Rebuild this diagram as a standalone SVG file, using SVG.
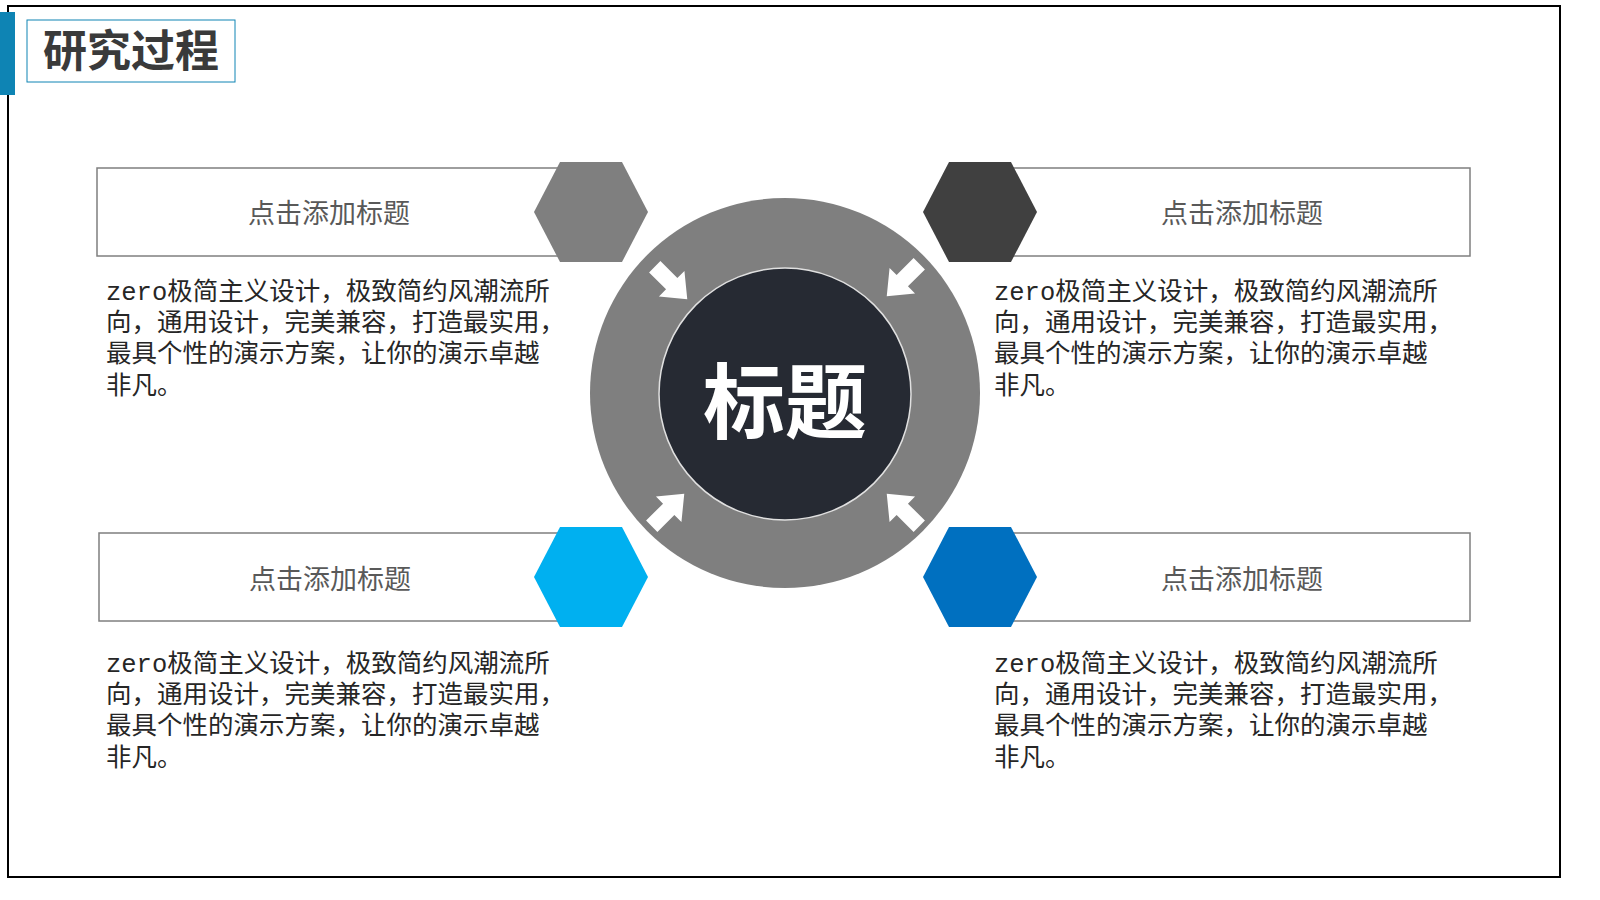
<svg xmlns="http://www.w3.org/2000/svg" width="1600" height="900" viewBox="0 0 1600 900">
<style>
.box{fill:#fff;stroke:#7f7f7f;stroke-width:1.5}
.ttl{font-family:"Noto Sans CJK SC",sans-serif;font-size:27px;fill:#595959;text-anchor:middle}
.body{font-family:"Liberation Mono","Noto Sans CJK SC",monospace;font-size:25.5px;fill:#262626}
.arr{fill:#fff}
</style>
<defs>
<polygon id="hex" points="-57,0 -31,-50 31,-50 57,0 31,50 -31,50"/>
<polygon id="ar" points="-23,-8 1,-8 1,-18 23,0 1,18 1,8 -23,8"/>
</defs>
<rect x="0" y="0" width="1600" height="900" fill="#fff"/>
<rect x="8" y="6" width="1552" height="871" fill="none" stroke="#000" stroke-width="2"/>
<rect x="0" y="12" width="15" height="83" fill="#0e84b4"/>
<g id="header">
<rect x="27" y="20" width="208" height="62" fill="#fff" stroke="#0e84b4" stroke-width="1"/>
<text x="131" y="67" text-anchor="middle" font-family="Noto Sans CJK SC,sans-serif" font-weight="bold" font-size="44" fill="#3a3a3a">研究过程</text>
</g>
<g id="node-tl">
<rect class="box" x="97" y="168" width="463" height="88"/>
<text class="ttl" x="329" y="223">点击添加标题</text>
<use href="#hex" x="591" y="212" fill="#7f7f7f"/>
<text class="body"><tspan x="106" y="300">zero极简主义设计，极致简约风潮流所</tspan><tspan x="106" y="331">向，通用设计，完美兼容，打造最实用，</tspan><tspan x="106" y="362">最具个性的演示方案，让你的演示卓越</tspan><tspan x="106" y="394">非凡。</tspan></text>
</g>
<g id="node-tr">
<rect class="box" x="1010" y="168" width="460" height="88"/>
<text class="ttl" x="1242" y="223">点击添加标题</text>
<use href="#hex" x="980" y="212" fill="#404040"/>
<text class="body"><tspan x="994" y="300">zero极简主义设计，极致简约风潮流所</tspan><tspan x="994" y="331">向，通用设计，完美兼容，打造最实用，</tspan><tspan x="994" y="362">最具个性的演示方案，让你的演示卓越</tspan><tspan x="994" y="394">非凡。</tspan></text>
</g>
<g id="node-bl">
<rect class="box" x="99" y="533" width="461" height="88"/>
<text class="ttl" x="330" y="589">点击添加标题</text>
<use href="#hex" x="591" y="577" fill="#00b0f0"/>
<text class="body"><tspan x="106" y="672">zero极简主义设计，极致简约风潮流所</tspan><tspan x="106" y="703">向，通用设计，完美兼容，打造最实用，</tspan><tspan x="106" y="734">最具个性的演示方案，让你的演示卓越</tspan><tspan x="106" y="766">非凡。</tspan></text>
</g>
<g id="node-br">
<rect class="box" x="1010" y="533" width="460" height="88"/>
<text class="ttl" x="1242" y="589">点击添加标题</text>
<use href="#hex" x="980" y="577" fill="#0070c0"/>
<text class="body"><tspan x="994" y="672">zero极简主义设计，极致简约风潮流所</tspan><tspan x="994" y="703">向，通用设计，完美兼容，打造最实用，</tspan><tspan x="994" y="734">最具个性的演示方案，让你的演示卓越</tspan><tspan x="994" y="766">非凡。</tspan></text>
</g>
<g id="center">
<circle cx="785" cy="393" r="195" fill="#7f7f7f"/>
<circle cx="785" cy="394" r="126" fill="#262a33" stroke="#e0e0e0" stroke-width="1.5"/>
<text x="785" y="432" text-anchor="middle" font-family="Noto Sans CJK SC,sans-serif" font-weight="bold" font-size="82" fill="#fff">标题</text>
</g>
<g id="connectors">
<use class="arr" href="#ar" transform="translate(671,283) rotate(45)"/>
<use class="arr" href="#ar" transform="translate(903,280) rotate(135)"/>
<use class="arr" href="#ar" transform="translate(668,510) rotate(-45)"/>
<use class="arr" href="#ar" transform="translate(903,510) rotate(-135)"/>
</g>
</svg>
